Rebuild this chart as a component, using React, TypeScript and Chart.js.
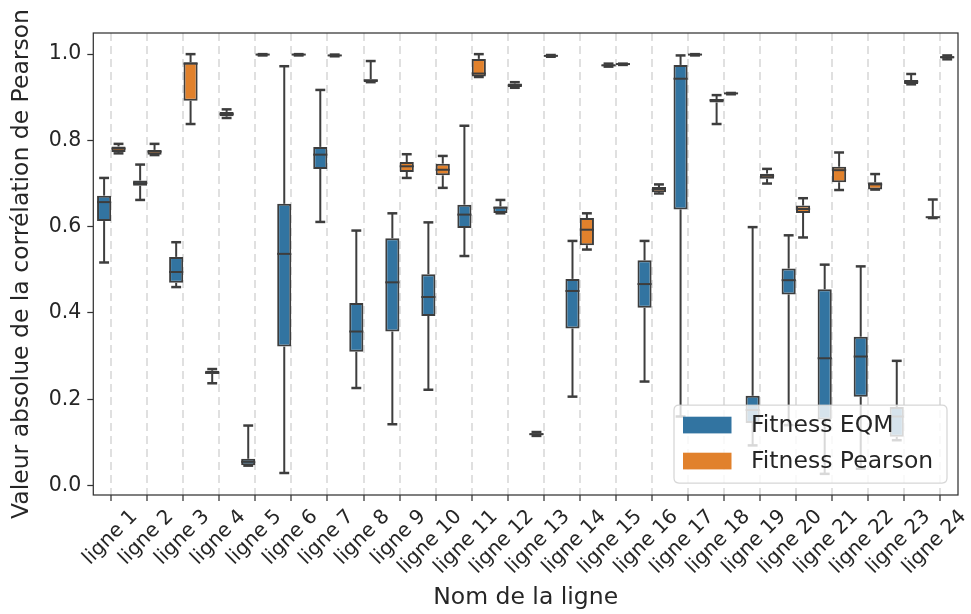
import React, { useEffect, useRef } from "react";
import { Chart, registerables } from "chart.js";

Chart.register(...registerables);

const categories = [
  "ligne 1", "ligne 2", "ligne 3", "ligne 4", "ligne 5", "ligne 6",
  "ligne 7", "ligne 8", "ligne 9", "ligne 10", "ligne 11", "ligne 12",
  "ligne 13", "ligne 14", "ligne 15", "ligne 16", "ligne 17", "ligne 18",
  "ligne 19", "ligne 20", "ligne 21", "ligne 22", "ligne 23", "ligne 24",
];

const seriesLabels = ["Fitness EQM", "Fitness Pearson"];

// Fitness EQM : min, Q1, médiane, Q3, max
const eqmMin = [0.517, 0.662, 0.460, 0.237, 0.046, 0.029, 0.611, 0.226, 0.142, 0.222, 0.532, 0.631, 0.115, 0.206, 0.971, 0.241, 0.160, 0.838, 0.093, 0.140, 0.027, 0.039, 0.105, 0.620];
const eqmQ1 = [0.613, 0.695, 0.470, 0.259, 0.047, 0.322, 0.734, 0.310, 0.357, 0.393, 0.597, 0.632, 0.117, 0.364, 0.972, 0.412, 0.640, 0.888, 0.145, 0.443, 0.153, 0.206, 0.113, 0.621];
const eqmMedian = [0.657, 0.701, 0.495, 0.261, 0.055, 0.537, 0.767, 0.357, 0.471, 0.437, 0.628, 0.644, 0.119, 0.451, 0.974, 0.467, 0.943, 0.893, 0.175, 0.476, 0.295, 0.299, 0.160, 0.622];
const eqmQ3 = [0.672, 0.707, 0.530, 0.266, 0.062, 0.653, 0.785, 0.423, 0.573, 0.490, 0.651, 0.647, 0.121, 0.479, 0.976, 0.522, 0.975, 0.896, 0.208, 0.503, 0.455, 0.345, 0.182, 0.623];
const eqmMax = [0.713, 0.744, 0.564, 0.270, 0.139, 0.972, 0.917, 0.591, 0.631, 0.610, 0.834, 0.662, 0.124, 0.567, 0.978, 0.567, 0.997, 0.905, 0.599, 0.580, 0.512, 0.508, 0.289, 0.663];

// Fitness Pearson : min, Q1, médiane, Q3, max
const pearsonMin = [0.770, 0.766, 0.838, 0.852, 0.997, 0.997, 0.995, 0.935, 0.713, 0.690, 0.947, 0.922, 0.994, 0.547, 0.975, 0.677, 0.997, 0.907, 0.700, 0.575, 0.685, 0.686, 0.930, 0.988];
const pearsonQ1 = [0.773, 0.767, 0.892, 0.856, 0.998, 0.998, 0.996, 0.935, 0.727, 0.719, 0.948, 0.924, 0.995, 0.557, 0.976, 0.680, 0.998, 0.908, 0.711, 0.632, 0.703, 0.686, 0.931, 0.990];
const pearsonMedian = [0.781, 0.774, 0.978, 0.861, 0.999, 0.999, 0.997, 0.939, 0.740, 0.732, 0.955, 0.928, 0.996, 0.593, 0.977, 0.687, 0.999, 0.909, 0.718, 0.641, 0.731, 0.698, 0.936, 0.993];
const pearsonQ3 = [0.786, 0.778, 0.981, 0.866, 0.999, 0.999, 0.998, 0.942, 0.750, 0.746, 0.989, 0.932, 0.997, 0.620, 0.977, 0.692, 0.999, 0.909, 0.723, 0.649, 0.739, 0.703, 0.940, 0.995];
const pearsonMax = [0.792, 0.792, 1.000, 0.872, 1.000, 1.000, 0.999, 0.984, 0.768, 0.764, 1.000, 0.935, 0.998, 0.631, 0.978, 0.698, 1.000, 0.910, 0.734, 0.666, 0.772, 0.722, 0.954, 0.997];

const yTicks = [0.0, 0.2, 0.4, 0.6, 0.8, 1.0];

const boxColors = ["#3274a1", "#e1812c"];
const lineColor = "#3d3d3d";
const textColor = "#262626";
const FONT = "'DejaVu Sans', sans-serif";

const stats = [
  { min: eqmMin, q1: eqmQ1, med: eqmMedian, q3: eqmQ3, max: eqmMax },
  { min: pearsonMin, q1: pearsonQ1, med: pearsonMedian, q3: pearsonQ3, max: pearsonMax },
];

const whiskerPlugin = {
  id: "whiskers",
  afterDatasetsDraw(chart: any) {
    const ctx = chart.ctx;
    const ys = chart.scales.y;
    ctx.save();
    ctx.strokeStyle = lineColor;
    ctx.lineCap = "butt";
    const seg = (x1: number, y1: number, x2: number, y2: number, w: number) => {
      ctx.lineWidth = w;
      ctx.beginPath();
      ctx.moveTo(x1, y1);
      ctx.lineTo(x2, y2);
      ctx.stroke();
    };
    stats.forEach((s, d) => {
      const meta = chart.getDatasetMeta(d);
      meta.data.forEach((bar: any, i: number) => {
        const { x, width } = bar.getProps(["x", "width"], true);
        const yMin = ys.getPixelForValue(s.min[i]);
        const yQ1 = ys.getPixelForValue(s.q1[i]);
        const yMed = ys.getPixelForValue(s.med[i]);
        const yQ3 = ys.getPixelForValue(s.q3[i]);
        const yMax = ys.getPixelForValue(s.max[i]);
        const cap = width * 0.35;
        seg(x, yQ3, x, yMax, 2);
        seg(x, yQ1, x, yMin, 2);
        seg(x - cap, yMax, x + cap, yMax, 2.5);
        seg(x - cap, yMin, x + cap, yMin, 2.5);
        seg(x - width / 2, yMed, x + width / 2, yMed, 2);
      });
    });
    ctx.restore();
  },
};

const framePlugin = {
  id: "frame",
  afterDraw(chart: any) {
    const { ctx, chartArea } = chart;
    ctx.save();
    ctx.strokeStyle = "#333333";
    ctx.lineWidth = 1.25;
    ctx.strokeRect(chartArea.left, chartArea.top, chartArea.right - chartArea.left, chartArea.bottom - chartArea.top);

    // légende
    const w = 273;
    const h = 78;
    const x0 = chartArea.right - 11 - w;
    const y0 = chartArea.bottom - 12 - h;
    const r = 5;
    ctx.beginPath();
    ctx.moveTo(x0 + r, y0);
    ctx.lineTo(x0 + w - r, y0);
    ctx.quadraticCurveTo(x0 + w, y0, x0 + w, y0 + r);
    ctx.lineTo(x0 + w, y0 + h - r);
    ctx.quadraticCurveTo(x0 + w, y0 + h, x0 + w - r, y0 + h);
    ctx.lineTo(x0 + r, y0 + h);
    ctx.quadraticCurveTo(x0, y0 + h, x0, y0 + h - r);
    ctx.lineTo(x0, y0 + r);
    ctx.quadraticCurveTo(x0, y0, x0 + r, y0);
    ctx.closePath();
    ctx.fillStyle = "rgba(255,255,255,0.8)";
    ctx.fill();
    ctx.strokeStyle = "rgba(204,204,204,0.8)";
    ctx.lineWidth = 1.25;
    ctx.stroke();

    ctx.font = `23.5px ${FONT}`;
    ctx.textBaseline = "middle";
    ctx.textAlign = "left";
    chart.data.datasets.forEach((ds: any, d: number) => {
      const py = y0 + 11.7 + d * 36;
      ctx.fillStyle = ds.backgroundColor;
      ctx.fillRect(x0 + 9, py, 48.5, 16.7);
      ctx.fillStyle = textColor;
      ctx.fillText(ds.label, x0 + 77, py + 8.8);
    });
    ctx.restore();
  },
};

export default function App() {
  const canvasRef = useRef<HTMLCanvasElement | null>(null);

  useEffect(() => {
    document.body.style.margin = "0";
    const canvas = canvasRef.current;
    if (!canvas) return;
    const chart = new Chart(canvas, {
      type: "bar",
      data: {
        labels: categories,
        datasets: stats.map((s, d) => ({
          label: seriesLabels[d],
          data: s.q1.map((v, i) => [v, s.q3[i]]),
          backgroundColor: boxColors[d],
          borderColor: lineColor,
          borderWidth: 2,
          borderSkipped: false,
          categoryPercentage: 0.8,
          barPercentage: 0.98,
        })),
      },
      options: {
        animation: false,
        responsive: false,
        maintainAspectRatio: false,
        devicePixelRatio: 1,
        layout: { padding: { top: 33, right: 13, bottom: 2, left: 0 } },
        plugins: {
          legend: { display: false },
          tooltip: { enabled: false },
        },
        scales: {
          x: {
            offset: true,
            grid: {
              display: true,
              offset: false,
              color: "#e0e0e0",
              lineWidth: 2,
              drawOnChartArea: true,
              drawTicks: true,
              tickLength: 6,
              tickColor: "#333333",
              tickWidth: 1.25,
              tickBorderDash: [],
            },
            border: { display: false, dash: [8, 5] },
            ticks: {
              autoSkip: false,
              minRotation: 45,
              maxRotation: 45,
              padding: 4,
              labelOffset: 23,
              color: textColor,
              font: { family: FONT, size: 20 },
            },
            title: {
              display: true,
              text: "Nom de la ligne",
              color: textColor,
              font: { family: FONT, size: 23.5 },
              padding: { top: 0, bottom: 0 },
            },
            afterFit: (scale: any) => {
              scale.height = 117;
            },
          },
          y: {
            min: -0.022,
            max: 1.049,
            grid: {
              display: true,
              drawOnChartArea: false,
              drawTicks: true,
              tickLength: 6,
              tickColor: "#333333",
              tickWidth: 1.25,
            },
            border: { display: false },
            ticks: {
              padding: 6,
              color: textColor,
              font: { family: FONT, size: 20.5 },
              callback: (v: any) => Number(v).toFixed(1),
            },
            afterBuildTicks: (scale: any) => {
              scale.ticks = yTicks.map((v) => ({ value: v }));
            },
            title: {
              display: true,
              text: "Valeur absolue de la corrélation de Pearson",
              color: textColor,
              font: { family: FONT, size: 23.5 },
              padding: { top: 8, bottom: 0 },
            },
            afterFit: (scale: any) => {
              scale.width = 93.3;
            },
          },
        },
      },
      plugins: [whiskerPlugin, framePlugin],
    } as any);
    return () => chart.destroy();
  }, []);

  return (
    <div style={{ width: 971, height: 614, background: "#ffffff" }}>
      <canvas ref={canvasRef} width={971} height={614} style={{ display: "block" }} />
    </div>
  );
}
